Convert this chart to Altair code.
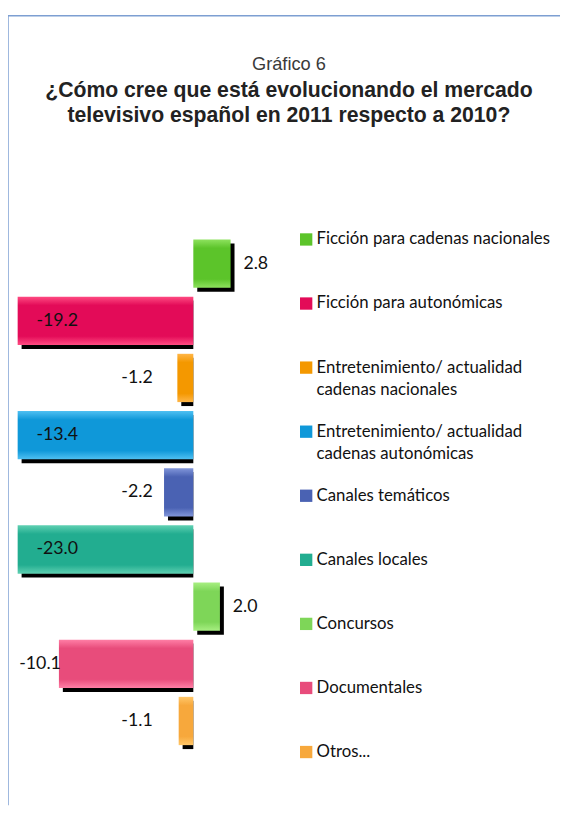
import altair as alt
import pandas as pd

# ---------------- data ----------------
title_lines = ["Gráfico 6",
               "¿Cómo cree que está evolucionando el mercado",
               "televisivo español en 2011 respecto a 2010?"]

categories = ["Ficción para cadenas nacionales",
              "Ficción para autonómicas",
              "Entretenimiento/ actualidad cadenas nacionales",
              "Entretenimiento/ actualidad cadenas autonómicas",
              "Canales temáticos",
              "Canales locales",
              "Concursos",
              "Documentales",
              "Otros..."]

values = [2.8, -19.2, -1.2, -13.4, -2.2, -23.0, 2.0, -10.1, -1.1]

legend_lines = [["Ficción para cadenas nacionales"],
                ["Ficción para autonómicas"],
                ["Entretenimiento/ actualidad", "cadenas nacionales"],
                ["Entretenimiento/ actualidad", "cadenas autonómicas"],
                ["Canales temáticos"],
                ["Canales locales"],
                ["Concursos"],
                ["Documentales"],
                ["Otros..."]]

base_colors = ["#5cc42a", "#e30b58", "#f49800", "#0f98d9", "#4a62b3",
               "#22ad90", "#7ed658", "#e84c7b", "#f7a83c"]
light_colors = ["#8ee25e", "#ff4c82", "#ffb648", "#4fc0f2", "#8196da",
                "#5fd0b2", "#a8ef82", "#ff7fa6", "#ffc769"]

# ---------------- layout constants ----------------
XMIN, XMAX = -13.2, 8.0
ZERO_PX, PX_PER_UNIT = 188, 13.5
ROW_PX = 58.0          # bar row step in pixels
BAR_HALF = 0.4225      # half bar thickness, in rows
LEG_STEP = 65.0        # legend row step in pixels
LEG_LINE = 23.0        # legend line height in pixels
LEG_SHIFT = -24.5      # legend first row vs first bar centre, pixels
W, H = 560, 803
FONT = "Lato"

n = len(categories)
df = pd.DataFrame({"idx": list(range(n)), "cat": categories, "v": values,
                   "label": [f"{v:.1f}" for v in values]})

x_scale = alt.Scale(domain=[XMIN, XMAX],
                    range=[ZERO_PX + XMIN * PX_PER_UNIT, ZERO_PX + XMAX * PX_PER_UNIT],
                    clamp=True, nice=False, zero=False)
y_scale = alt.Scale(domain=[0, n - 1],
                    range=[253.5, 253.5 + (n - 1) * ROW_PX],
                    nice=False, zero=False)

X = alt.X("v:Q", scale=x_scale, axis=None)
Yc = alt.Y("idx:Q", scale=y_scale, axis=None)

base = alt.Chart(df).transform_calculate(
    y0=f"datum.idx - {BAR_HALF}", y1=f"datum.idx + {BAR_HALF}")
Yb = alt.Y("y0:Q", scale=y_scale, axis=None)
Y2b = alt.Y2("y1:Q")

one = pd.DataFrame({"a": [0]})

# frame
frame_top = alt.Chart(one).mark_rule(color="#7d9fd2", strokeWidth=1.5).encode(
    x=alt.value(0), x2=alt.value(W), y=alt.value(2))
frame_left = alt.Chart(one).mark_rule(color="#7d9fd2", strokeWidth=1.5).encode(
    x=alt.value(0), y=alt.value(2), y2=alt.value(H))

# titles
def title_text(txt, y, size, weight, color):
    return alt.Chart(pd.DataFrame({"t": [txt]})).mark_text(
        font="Liberation Sans", fontSize=size, fontWeight=weight, color=color,
        align="center", baseline="alphabetic").encode(
        x=alt.value(285), y=alt.value(y), text="t:N")

t0 = title_text(title_lines[0], 57, 18.5, "normal", "#3a3a3a")
t1 = title_text(title_lines[1], 84, 21.5, "bold", "#222222")
t2 = title_text(title_lines[2], 110, 21.5, "bold", "#222222")

# shadows
shadow_pos = base.transform_filter("datum.v > 0").mark_bar(
    color="black", xOffset=4, x2Offset=4, yOffset=4, y2Offset=4).encode(
    x=X, x2=alt.datum(0), y=Yb, y2=Y2b)
shadow_neg = base.transform_filter("datum.v < 0").mark_bar(
    color="black", xOffset=4, x2Offset=0, yOffset=4, y2Offset=4).encode(
    x=X, x2=alt.datum(0), y=Yb, y2=Y2b)

# bars with vertical gradients
bars = []
for c, bc, lc in zip(categories, base_colors, light_colors):
    grad = {"gradient": "linear", "x1": 0, "y1": 0, "x2": 0, "y2": 1,
            "stops": [{"offset": 0, "color": lc},
                      {"offset": 0.18, "color": bc},
                      {"offset": 0.82, "color": bc},
                      {"offset": 1, "color": lc}]}
    bars.append(
        base.transform_filter(alt.datum.cat == c).mark_bar(color=grad).encode(
            x=X, x2=alt.datum(0), y=Yb, y2=Y2b))

# value labels
lab_pos = alt.Chart(df).transform_filter("datum.v > 0").mark_text(
    align="left", baseline="middle", dx=13, font=FONT, fontSize=18,
    color="#111111").encode(x=X, y=Yc, text="label:N")
lab_clip = alt.Chart(df).transform_filter(f"datum.v < {XMIN}").transform_calculate(
    lx=f"{XMIN}").mark_text(
    align="left", baseline="middle", dx=19, font=FONT, fontSize=18,
    color="#111111").encode(
    x=alt.X("lx:Q", scale=x_scale, axis=None), y=Yc, text="label:N")
lab_neg = alt.Chart(df).transform_filter(
    f"datum.v < 0 && datum.v >= {XMIN}").transform_calculate(
    lx="min(datum.v, -3.2)").mark_text(
    align="right", baseline="middle", dx=2, font=FONT, fontSize=18,
    color="#111111").encode(
    x=alt.X("lx:Q", scale=x_scale, axis=None), y=Yc, text="label:N")

# custom legend (rows in their own spacing, expressed in bar-row units)
leg_rows = []
for i, lines in enumerate(legend_lines):
    for j, t in enumerate(lines):
        leg_rows.append({"idx": i, "line": j, "text": t, "cat": categories[i]})
leg_df = pd.DataFrame(leg_rows)

leg_y = f"(datum.idx * {LEG_STEP} + datum.line * {LEG_LINE} + {LEG_SHIFT}) / {ROW_PX}"
legend_text = alt.Chart(leg_df).transform_calculate(ly=leg_y).mark_text(
    align="left", baseline="middle", font=FONT, fontSize=17,
    color="#111111").encode(
    x=alt.value(313), y=alt.Y("ly:Q", scale=y_scale, axis=None), text="text:N")
legend_sq = alt.Chart(leg_df).transform_filter("datum.line == 0").transform_calculate(
    ly=leg_y).mark_square(size=156, filled=True, opacity=1).encode(
    x=alt.value(302.5),
    y=alt.Y("ly:Q", scale=y_scale, axis=None),
    color=alt.Color("cat:N", scale=alt.Scale(domain=categories, range=base_colors),
                    legend=None))

chart = alt.layer(
    frame_top, frame_left, t0, t1, t2,
    shadow_pos, shadow_neg, *bars,
    lab_pos, lab_clip, lab_neg,
    legend_sq, legend_text
).properties(
    width=W, height=H,
    autosize=alt.AutoSizeParams(type="none"),
    padding=0,
    background="white"
).configure_view(stroke=None)

chart.save("out.html", embed_options={"renderer": "svg", "actions": False})
